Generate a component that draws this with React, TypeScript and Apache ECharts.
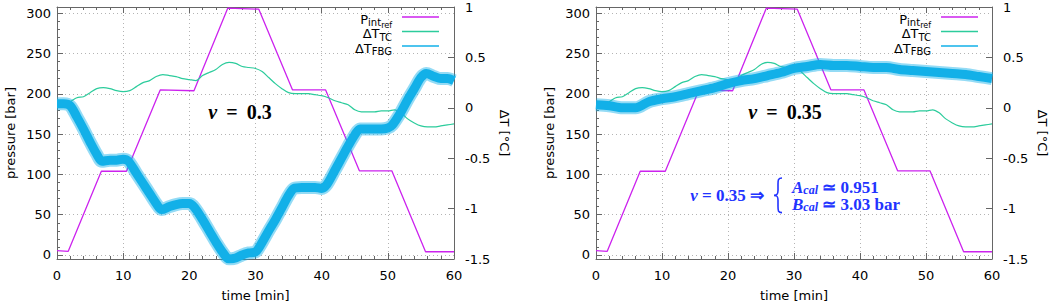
import React, { useEffect, useRef } from "react";
import * as echarts from "echarts";

// ---- data ----
const xTickLabels = ["0", "10", "20", "30", "40", "50", "60"];

// reference pressure profile P_int_ref [bar] (breakpoints)
const pTime = [0, 1.7, 6.7, 10.5, 15.6, 20.7, 25.8, 30.5, 35.6, 40.6, 45.7, 50.6, 55.7, 60];
const pVal = [5.5, 4.5, 104, 104, 205, 204, 306.5, 305.3, 205, 205, 104.5, 104.5, 4, 4];

// thermocouple temperature change [°C]
const tcTime = [0, 1, 2, 3, 4, 5, 6, 7, 8, 9, 10, 11, 12, 13, 14, 15, 16, 17, 18, 19, 20, 21, 22, 23, 24, 25, 26, 27, 28, 29, 30, 31, 32, 33, 34, 35, 36, 37, 38, 39, 40, 41, 42, 43, 44, 45, 46, 47, 48, 49, 50, 51, 52, 53, 54, 55, 56, 57, 58, 59, 60];
const tcVal = [0.02, 0.03, 0.06, 0.1, 0.11, 0.15, 0.19, 0.2, 0.19, 0.17, 0.16, 0.17, 0.21, 0.25, 0.27, 0.31, 0.33, 0.32, 0.31, 0.29, 0.28, 0.27, 0.32, 0.35, 0.38, 0.43, 0.45, 0.44, 0.41, 0.4, 0.39, 0.36, 0.3, 0.24, 0.19, 0.15, 0.14, 0.14, 0.14, 0.13, 0.12, 0.1, 0.07, 0.05, 0.03, -0.02, -0.04, -0.04, -0.04, -0.03, -0.03, -0.02, -0.05, -0.11, -0.15, -0.18, -0.19, -0.19, -0.18, -0.17, -0.16];

// FBG temperature change, nu = 0.3 [°C]
const fbg03Time = [0, 1, 2, 3, 4, 5, 6, 6.8, 8, 9, 10, 10.8, 12, 13, 14, 15, 15.8, 17, 18, 19, 20, 20.8, 22, 23, 24, 25, 26, 27, 28, 29, 30, 30.6, 32, 33, 34, 35, 35.8, 37, 38, 39, 40, 40.8, 42, 43, 44, 45, 45.8, 47, 48, 49, 50, 50.7, 52, 53, 54, 55, 55.8, 57, 58, 59, 60];
const fbg03Val = [0.04, 0.04, 0.02, -0.09, -0.21, -0.34, -0.46, -0.53, -0.52, -0.52, -0.51, -0.53, -0.65, -0.75, -0.85, -0.95, -1.01, -0.98, -0.96, -0.95, -0.95, -0.99, -1.11, -1.22, -1.33, -1.43, -1.5, -1.49, -1.46, -1.44, -1.43, -1.38, -1.22, -1.11, -0.99, -0.87, -0.8, -0.79, -0.79, -0.79, -0.8, -0.76, -0.62, -0.5, -0.38, -0.27, -0.21, -0.21, -0.21, -0.21, -0.2, -0.17, -0.04, 0.08, 0.19, 0.3, 0.34, 0.31, 0.29, 0.29, 0.27];

// FBG temperature change, nu = 0.35 [°C]
const fbg035Time = [0, 2, 4, 6, 8, 10, 12, 14, 16, 18, 20, 22, 24, 26, 28, 30, 32, 34, 36, 38, 40, 42, 44, 46, 48, 50, 52, 54, 56, 58, 60];
const fbg035Val = [0.03, 0.02, 0.0, 0.0, 0.06, 0.09, 0.11, 0.14, 0.17, 0.2, 0.24, 0.27, 0.29, 0.32, 0.35, 0.39, 0.41, 0.43, 0.42, 0.42, 0.41, 0.4, 0.4, 0.38, 0.37, 0.36, 0.35, 0.34, 0.33, 0.31, 0.29];

const nuLabels = ["0.3", "0.35"];
const calA = "0.951";
const calB = "3.03 bar";

// ---- style ----
const C_P = "#cc22ee";
const C_TC = "#2ccc9c";
const C_FBG = "#12b0e8";
const C_AX = "#666666";
const C_GRID = "#b4b4b4";
const C_BLUE = "#2233ff";
const SANS = "DejaVu Sans";
const SERIF = "Liberation Serif";

const GRIDS = [
  { left: 57, top: 7, width: 397, height: 252, outerBoundsMode: "none", containLabel: false },
  { left: 596, top: 7, width: 396, height: 252, outerBoundsMode: "none", containLabel: false },
];

const pairs = (t: number[], v: number[]) => t.map((x, i) => [x, v[i]]);

echarts.graphic.registerShape(
  "brace",
  echarts.graphic.extendPath(
    "M 8 0 C 4 0 4 2 4 6 L 4 12 C 4 15.5 3 16.5 0 16.5 C 3 16.5 4 17.5 4 21 L 4 27 C 4 31 4 33 8 33",
    {}
  )
);

function buildOption() {
  const xAxis: any[] = [];
  const yAxis: any[] = [];
  const series: any[] = [];
  const graphic: any[] = [];

  const legRich = {
    m: { fontSize: 13, fontFamily: SANS, fill: "#000", lineHeight: 16 },
    s: { fontSize: 10, fontFamily: SANS, fill: "#000", lineHeight: 11, padding: [7, 0, 0, 0] },
    ss: { fontSize: 8, fontFamily: SANS, fill: "#000", lineHeight: 9, padding: [13, 0, 0, 0] },
  };

  GRIDS.forEach((g, gi) => {
    const tickLabelStyle = { color: "#000", fontSize: 13, fontFamily: SANS, lineHeight: 10 };
    const axLine = { show: true, onZero: false, lineStyle: { color: C_AX, width: 1 } };
    const gridLine = { show: true, lineStyle: { color: C_GRID, type: [1, 3], width: 1 } };
    // bottom x
    xAxis.push({
      type: "value", gridIndex: gi, position: "bottom", min: 0, max: 60, interval: 10,
      axisLine: axLine,
      axisTick: { show: true, inside: true, length: 6, lineStyle: { color: C_AX } },
      minorTick: { show: true, splitNumber: 5, length: 3, lineStyle: { color: C_AX } },
      axisLabel: { ...tickLabelStyle, lineHeight: 15, margin: 9, formatter: (v: number) => xTickLabels[Math.round(v / 10)] ?? "" },
      splitLine: gridLine,
      name: "time [min]", nameLocation: "middle", nameGap: 30,
      nameTextStyle: { color: "#000", fontSize: 13, fontFamily: SANS, lineHeight: 13 },
    });
    // top x (mirror ticks)
    xAxis.push({
      type: "value", gridIndex: gi, position: "top", min: 0, max: 60, interval: 10,
      axisLine: axLine,
      axisTick: { show: true, inside: true, length: 6, lineStyle: { color: C_AX } },
      minorTick: { show: true, splitNumber: 5, length: 3, lineStyle: { color: C_AX } },
      axisLabel: { show: false },
      splitLine: { show: false },
    });
    // left y pressure
    yAxis.push({
      type: "value", gridIndex: gi, position: "left", min: -5, max: 308, splitNumber: 6,
      axisLine: axLine,
      axisTick: { show: true, inside: true, length: 6, lineStyle: { color: C_AX } },
      minorTick: { show: true, splitNumber: 5, length: 3, lineStyle: { color: C_AX } },
      axisLabel: { ...tickLabelStyle, margin: 6, formatter: (v: number) => (Math.abs(v % 50) < 1e-6 ? String(v) : "") },
      splitLine: gridLine,
      name: "pressure [bar]", nameLocation: "middle", nameGap: 40, nameRotate: 90,
      nameTextStyle: { color: "#000", fontSize: 13, fontFamily: SANS },
    });
    // right y temperature
    yAxis.push({
      type: "value", gridIndex: gi, position: "right", min: -1.5, max: 1, interval: 0.5,
      axisLine: axLine,
      axisTick: { show: true, inside: true, length: 6, lineStyle: { color: C_AX } },
      axisLabel: { ...tickLabelStyle, margin: 11 },
      splitLine: { show: false },
      name: "ΔT [°C]", nameLocation: "middle", nameGap: 44, nameRotate: -90,
      nameTextStyle: { color: "#000", fontSize: 13, fontFamily: SANS, lineHeight: 13 },
    });

    const xi = gi * 2;
    const yl = gi * 2;
    const yr = gi * 2 + 1;
    const fbg = gi === 0 ? pairs(fbg03Time, fbg03Val) : pairs(fbg035Time, fbg035Val);

    series.push({
      type: "line", name: "P_int_ref", xAxisIndex: xi, yAxisIndex: yl, data: pairs(pTime, pVal),
      showSymbol: false, symbol: "none", silent: true, lineStyle: { color: C_P, width: 1.3 }, z: 2,
    });
    series.push({
      type: "line", name: "ΔT_TC", xAxisIndex: xi, yAxisIndex: yr, data: pairs(tcTime, tcVal),
      showSymbol: false, symbol: "none", silent: true, smooth: 0.3, lineStyle: { color: C_TC, width: 1.2 }, z: 3,
    });
    series.push({
      type: "line", name: "ΔT_FBG halo", xAxisIndex: xi, yAxisIndex: yr, data: fbg,
      showSymbol: false, symbol: "none", silent: true, smooth: 0.3,
      lineStyle: { color: C_FBG, width: 13, opacity: 0.45, join: "round", cap: "butt" }, z: 4,
    });
    series.push({
      type: "line", name: "ΔT_FBG", xAxisIndex: xi, yAxisIndex: yr, data: fbg,
      showSymbol: false, symbol: "none", silent: true, smooth: 0.3,
      lineStyle: { color: C_FBG, width: 9, join: "round", cap: "butt" }, z: 5,
    });

    // legend (drawn)
    const lx = g.left + 335;
    const rows = [
      { text: "{m|P}{s|int}{ss|ref}", color: C_P, y: 17 },
      { text: "{m|ΔT}{s|TC}", color: C_TC, y: 31.5 },
      { text: "{m|ΔT}{s|FBG}", color: C_FBG, y: 46 },
    ];
    rows.forEach((r) => {
      graphic.push({
        type: "text", z: 100,
        style: { text: r.text, rich: legRich, x: lx, y: r.y + 2, align: "right", verticalAlign: "middle" },
      });
      graphic.push({
        type: "line", z: 100,
        shape: { x1: lx + 10, y1: r.y, x2: lx + 47, y2: r.y },
        style: { stroke: r.color, lineWidth: 1.3 },
      });
    });

    // nu label
    graphic.push({
      type: "text", z: 100,
      style: {
        text: `{i|ν} {e|=} {n|${nuLabels[gi]}}`,
        rich: {
          i: { fontFamily: SERIF, fontStyle: "italic", fontWeight: "bold", fontSize: 20, fill: "#000" },
          e: { fontFamily: SERIF, fontWeight: "bold", fontSize: 20, fill: "#000", padding: [0, 4, 0, 4] },
          n: { fontFamily: SERIF, fontWeight: "bold", fontSize: 20, fill: "#000" },
        },
        fontFamily: SERIF, fontSize: 20, fontWeight: "bold", fill: "#000",
        x: gi === 0 ? 240 : 785, y: 112, align: "center", verticalAlign: "middle",
      },
    });
  });

  // blue calibration annotation
  const blueRich = {
    i: { fontFamily: SERIF, fontStyle: "italic", fontWeight: "bold", fontSize: 17, fill: C_BLUE },
    s: { fontFamily: SERIF, fontStyle: "italic", fontWeight: "bold", fontSize: 12, fill: C_BLUE, padding: [6, 0, 0, 0] },
    n: { fontFamily: SERIF, fontWeight: "bold", fontSize: 17, fill: C_BLUE },
  };
  graphic.push({
    type: "text", z: 100,
    style: {
      text: "{i|ν} {n|= 0.35 ⇒}", rich: blueRich, fontFamily: SERIF, fontSize: 17, fontWeight: "bold", fill: C_BLUE,
      x: 764, y: 195, align: "right", verticalAlign: "middle",
    },
  });
  graphic.push({
    type: "brace", z: 100, x: 774, y: 178, scaleX: 1, scaleY: 1.05,
    style: { stroke: C_BLUE, fill: "none", lineWidth: 1.6 },
  });
  graphic.push({
    type: "text", z: 100,
    style: {
      text: `{i|A}{s|cal} {n|≃ ${calA}}`, rich: blueRich, fontFamily: SERIF, fontSize: 17, fontWeight: "bold", fill: C_BLUE,
      x: 792, y: 187, align: "left", verticalAlign: "middle",
    },
  });
  graphic.push({
    type: "text", z: 100,
    style: {
      text: `{i|B}{s|cal} {n|≃ ${calB}}`, rich: blueRich, fontFamily: SERIF, fontSize: 17, fontWeight: "bold", fill: C_BLUE,
      x: 792, y: 204, align: "left", verticalAlign: "middle",
    },
  });

  return {
    animation: false,
    backgroundColor: "#ffffff",
    textStyle: { fontFamily: SANS },
    grid: GRIDS,
    xAxis,
    yAxis,
    series,
    graphic,
  };
}

export default function App() {
  const ref = useRef<HTMLDivElement>(null);
  useEffect(() => {
    document.body.style.margin = "0";
    if (!ref.current) return;
    const chart = echarts.init(ref.current, undefined, { renderer: "svg" });
    chart.setOption(buildOption() as any);
    return () => chart.dispose();
  }, []);
  return <div ref={ref} style={{ width: 1052, height: 302 }} />;
}
